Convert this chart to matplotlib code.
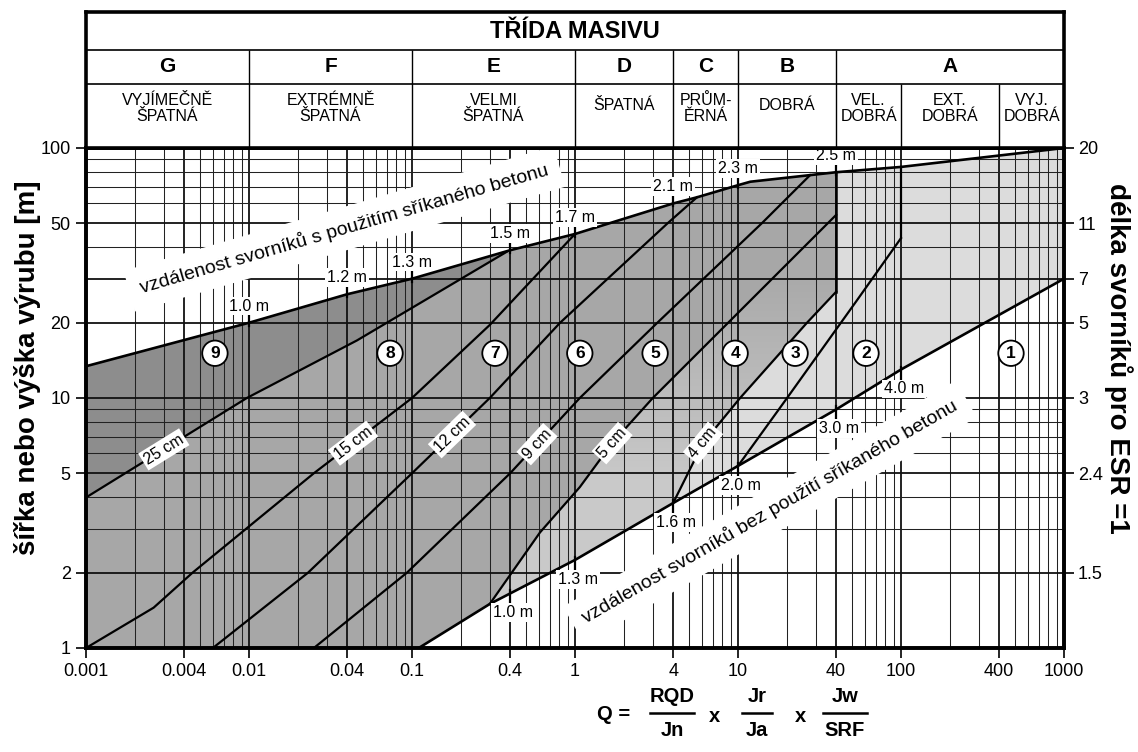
import numpy as np
import matplotlib
matplotlib.use('Agg')
import matplotlib.pyplot as plt
from matplotlib.patches import Polygon
from matplotlib.lines import Line2D
from matplotlib.ticker import FixedLocator, FixedFormatter, NullLocator

plt.rcParams['font.family'] = ['Liberation Sans', 'DejaVu Sans']

# ---------------- data ----------------
q_ticks = [0.001, 0.004, 0.01, 0.04, 0.1, 0.4, 1, 4, 10, 40, 100, 400, 1000]
q_tick_labels = ['0.001', '0.004', '0.01', '0.04', '0.1', '0.4', '1', '4', '10', '40', '100', '400', '1000']
span_ticks = [1, 2, 5, 10, 20, 50, 100]
span_tick_labels = ['1', '2', '5', '10', '20', '50', '100']
bolt_len_ticks = [2, 5, 10, 20, 30, 50, 100]
bolt_len_labels = ['1.5', '2.4', '3', '5', '7', '11', '20']
grid_major_span = [1, 2, 5, 10, 20, 30, 50, 100]

# header classes
class_edges = [0.001, 0.01, 0.1, 1, 4, 10, 40, 1000]
class_letters = ['G', 'F', 'E', 'D', 'C', 'B', 'A']
desc_edges = [0.001, 0.01, 0.1, 1, 4, 10, 40, 100, 400, 1000]
desc_texts = ['VYJÍMEČNĚ\nŠPATNÁ', 'EXTRÉMNĚ\nŠPATNÁ', 'VELMI\nŠPATNÁ', 'ŠPATNÁ',
              'PRŮM-\nĚRNÁ', 'DOBRÁ', 'VEL.\nDOBRÁ', 'EXT.\nDOBRÁ', 'VYJ.\nDOBRÁ']

# boundary: bolt spacing in shotcreted area (upper)
upper_q = [0.001, 0.01, 0.04, 0.1, 0.4, 1, 4, 5.6, 10, 11.9, 40, 100, 1000]
upper_s = [13.4, 20, 26, 30, 39, 45.3, 60, 63.5, 71, 73.3, 80, 84, 100]
# boundary: bolt spacing in unshotcreted area (lower)
lower_q = [0.11, 0.3, 1, 4, 10, 40, 100, 1000]
lower_s = [1, 1.5, 2.25, 3.8, 5.35, 9, 13, 30]

# shotcrete thickness lines
l25_q = [0.001, 0.0097, 0.046, 0.38]
l25_s = [4, 10, 17, 38.4]
l15_q = [0.001, 0.0026, 0.0045, 0.025, 0.1, 0.3, 1.0]
l15_s = [1, 1.45, 2, 5, 10, 19.6, 45.3]
l12_q = [0.006, 0.023, 0.1, 0.3, 0.81, 3.7, 5.6]
l12_s = [1, 2, 5, 10, 20, 50, 63.5]
l9_q = [0.025, 0.093, 0.40, 1.07, 3.2, 14, 27.7]
l9_s = [1, 2, 5, 10, 20, 50, 77.9]
l5_q = [0.3, 0.61, 1.07, 1.69, 3.0, 8.7, 40]
l5_s = [1.5, 2.9, 4.4, 6.6, 10, 20, 54]
l4_q = [4, 6.1, 10.3, 26.5, 40]
l4_s = [3.8, 6.6, 10, 20, 26.6]
# border between spot bolting and systematic bolting
l3_q = [10, 20, 53.7, 100]
l3_s = [5.35, 10, 24.6, 43.6]
q_vert_a = 40
q_vert_b = 100

# spacing marks
up_mark_q = [0.01, 0.04, 0.1, 0.4, 1, 4, 10, 40]
up_mark_lab = ['1.0 m', '1.2 m', '1.3 m', '1.5 m', '1.7 m', '2.1 m', '2.3 m', '2.5 m']
lo_mark_q = [0.4, 1, 4, 10, 40, 100]
lo_mark_lab = ['1.0 m', '1.3 m', '1.6 m', '2.0 m', '3.0 m', '4.0 m']

# thickness labels
thick_lab = ['25 cm', '15 cm', '12 cm', '9 cm', '5 cm', '4 cm']
thick_q = [0.003, 0.0435, 0.176, 0.585, 1.69, 6.1]

# region numbers
region_ids = ['1', '2', '3', '4', '5', '6', '7', '8', '9']
region_q = [473, 61, 22.4, 9.6, 3.1, 1.07, 0.323, 0.0733, 0.00618]
region_span = 15.1

# ---------------- helpers ----------------
def interp(qs, ss, q):
    return 10 ** np.interp(np.log10(q), np.log10(qs), np.log10(ss))

def part(qs, ss, qa, qb):
    qs = np.asarray(qs, float); ss = np.asarray(ss, float)
    inner = (qs > qa * 1.0001) & (qs < qb / 1.0001)
    xq = np.concatenate([[qa], qs[inner], [qb]])
    xs = np.concatenate([[interp(qs, ss, qa)], ss[inner], [interp(qs, ss, qb)]])
    return list(zip(xq, xs))

W, H = 1138, 752
L, R, T, B = 86, 1064, 148, 648
fig = plt.figure(figsize=(W / 100, H / 100), dpi=100)
ax = fig.add_axes([L / W, 1 - B / H, (R - L) / W, (B - T) / H])
ax.set_xscale('log'); ax.set_yscale('log')
ax.set_xlim(1e-3, 1e3); ax.set_ylim(1, 100)

# ---------------- regions ----------------
up_all = part(upper_q, upper_s, 0.001, 1000)
lo_all = part(lower_q, lower_s, 0.11, 1000)
poly_all = up_all + lo_all[::-1] + [(0.001, 1)]
ax.add_patch(Polygon(poly_all, closed=True, fc='#dcdcdc', ec='none', zorder=1))

up40 = part(upper_q, upper_s, 0.001, q_vert_a)
poly4 = up40 + list(zip(l4_q, l4_s))[::-1] + part(lower_q, lower_s, 0.11, 4)[::-1][1:] + [(0.001, 1)]
p4 = Polygon(poly4, closed=True, fc='none', ec='none', zorder=1)
ax.add_patch(p4)
lev = np.logspace(0, 2, 81)
for y0, y1 in zip(lev[:-1], lev[1:]):
    t = np.clip((np.log10(y0) - 0.65) / (1.45 - 0.65), 0, 1)
    g = 0.79 - t * (0.79 - 0.665)
    r = ax.axhspan(y0, y1, color=(g, g, g), lw=0, zorder=1)
    r.set_clip_path(p4)

poly5 = up40 + list(zip(l5_q, l5_s))[::-1] + part(lower_q, lower_s, 0.11, 0.3)[::-1][1:] + [(0.001, 1)]
ax.add_patch(Polygon(poly5, closed=True, fc='#a7a7a7', ec='none', zorder=1.1))

poly9 = part(upper_q, upper_s, 0.001, l25_q[-1]) + list(zip(l25_q, l25_s))[::-1]
ax.add_patch(Polygon(poly9, closed=True, fc='#8d8d8d', ec='none', zorder=1.2))

# ---------------- grid ----------------
for e in range(-3, 3):
    for m in range(1, 10):
        q = m * 10.0 ** e
        if any(np.isclose(q, v) for v in q_ticks):
            ax.axvline(q, color='#111111', lw=1.3, zorder=2)
        else:
            ax.axvline(q, color='#222222', lw=0.75, zorder=2)
for e in range(0, 2):
    for m in range(1, 10):
        s = m * 10.0 ** e
        if any(np.isclose(s, v) for v in grid_major_span):
            ax.axhline(s, color='#111111', lw=1.3, zorder=2)
        else:
            ax.axhline(s, color='#222222', lw=0.75, zorder=2)

# ---------------- lines ----------------
ax.plot(upper_q, upper_s, color='k', lw=1.9, zorder=3, solid_joinstyle='round')
ax.plot(lower_q, lower_s, color='k', lw=1.9, zorder=3, solid_joinstyle='round')
for qs, ss in [(l25_q, l25_s), (l15_q, l15_s), (l12_q, l12_s), (l9_q, l9_s),
               (l5_q, l5_s), (l4_q, l4_s), (l3_q, l3_s)]:
    ax.plot(qs, ss, color='k', lw=1.6, zorder=3, solid_joinstyle='round')
ax.plot([q_vert_a, q_vert_a], [l4_s[-1], interp(upper_q, upper_s, q_vert_a)], color='k', lw=1.8, zorder=3)
ax.plot([q_vert_b, q_vert_b], [l3_s[-1], interp(upper_q, upper_s, q_vert_b)], color='k', lw=1.6, zorder=3)

# ---------------- spacing marks ----------------
pxs = 10 ** (1 / 250.0)  # one pixel in span units
for q, lab in zip(up_mark_q, up_mark_lab):
    s = interp(upper_q, upper_s, q)
    ax.plot([q, q], [s / pxs ** 3, s * pxs ** 10], color='k', lw=1.6, zorder=3)
    ax.annotate(lab, (q, s), xytext=(0, 12), textcoords='offset points', ha='center', va='center',
                fontsize=11.5, zorder=5,
                bbox=dict(boxstyle='square,pad=0.12', fc='white', ec='none'))
for q, lab in zip(lo_mark_q, lo_mark_lab):
    s = interp(lower_q, lower_s, q)
    ax.plot([q, q], [s * pxs ** 3, s / pxs ** 10], color='k', lw=1.6, zorder=3)
    ax.annotate(lab, (q, s), xytext=(2, -14), textcoords='offset points', ha='center', va='center',
                fontsize=11.5, zorder=5,
                bbox=dict(boxstyle='square,pad=0.12', fc='white', ec='none'))

# ---------------- angle helper ----------------
def angle(qs, ss, q0):
    q1 = q0 * 1.1
    p0 = ax.transData.transform((q0, interp(qs, ss, q0)))
    p1 = ax.transData.transform((q1, interp(qs, ss, q1)))
    return np.degrees(np.arctan2(p1[1] - p0[1], p1[0] - p0[0]))

# thickness labels
for (qs, ss), lab, q in zip([(l25_q, l25_s), (l15_q, l15_s), (l12_q, l12_s), (l9_q, l9_s),
                             (l5_q, l5_s), (l4_q, l4_s)], thick_lab, thick_q):
    ax.text(q, interp(qs, ss, q), lab, rotation=angle(qs, ss, q), rotation_mode='anchor',
            ha='center', va='center', fontsize=11.5, zorder=5,
            bbox=dict(boxstyle='square,pad=0.15', fc='white', ec='none'))

# big labels
ax.text(0.0385, 47.5, 'vzdálenost svorníků s použitím sříkaného betonu',
        rotation=angle(upper_q, upper_s, 0.01), rotation_mode='anchor', ha='center', va='center',
        fontsize=14, zorder=4, bbox=dict(boxstyle='square,pad=0.6', fc='white', ec='none'))
ax.text(15.7, 3.5, 'vzdálenost svorníků bez použití sříkaného betonu',
        rotation=angle(lower_q, lower_s, 10), rotation_mode='anchor', ha='center', va='center',
        fontsize=14, zorder=4, bbox=dict(boxstyle='square,pad=0.6', fc='white', ec='none'))

# region circles
for lab, q in zip(region_ids, region_q):
    ax.text(q, region_span, lab, ha='center', va='center', fontsize=12.5, fontweight='bold', zorder=6,
            bbox=dict(boxstyle='circle,pad=0.3', fc='white', ec='black', lw=1.3))

# ---------------- axes styling ----------------
ax.xaxis.set_major_locator(FixedLocator(q_ticks))
ax.xaxis.set_major_formatter(FixedFormatter(q_tick_labels))
ax.xaxis.set_minor_locator(NullLocator())
ax.yaxis.set_major_locator(FixedLocator(span_ticks))
ax.yaxis.set_major_formatter(FixedFormatter(span_tick_labels))
ax.yaxis.set_minor_locator(NullLocator())
ax.tick_params(direction='out', length=7, width=1.2, labelsize=13, pad=4)
for sp in ax.spines.values():
    sp.set_linewidth(2.6)
    sp.set_zorder(7)

ax2 = ax.twinx()
ax2.set_yscale('log'); ax2.set_ylim(1, 100)
ax2.yaxis.set_major_locator(FixedLocator(bolt_len_ticks))
ax2.yaxis.set_major_formatter(FixedFormatter(bolt_len_labels))
ax2.yaxis.set_minor_locator(NullLocator())
ax2.tick_params(direction='out', length=7, width=1.2, labelsize=13, pad=3)
for sp in ax2.spines.values():
    sp.set_linewidth(2.6)

fig.text(28 / W, 1 - 368 / H, 'šířka nebo výška výrubu [m]', rotation=90, ha='center', va='center',
         fontsize=20, fontweight='bold')
fig.text(1118 / W, 1 - 358 / H, 'délka svorníků pro ESR =1', rotation=270, ha='center', va='center',
         fontsize=20, fontweight='bold')

# ---------------- header ----------------
axh = fig.add_axes([L / W, 1 - T / H, (R - L) / W, (T - 12) / H])
axh.set_xscale('log'); axh.set_xlim(1e-3, 1e3); axh.set_ylim(0, 1)
for a in (axh.xaxis, axh.yaxis):
    a.set_major_locator(NullLocator()); a.set_minor_locator(NullLocator())
for sp in axh.spines.values():
    sp.set_linewidth(2.6)
r1 = (T - 50) / (T - 12)
r2 = (T - 84) / (T - 12)
axh.axhline(r1, color='k', lw=1.2)
axh.axhline(r2, color='k', lw=1.2)
axh.vlines(class_edges[1:-1], 0, r1, color='k', lw=1.0)
axh.vlines([e for e in desc_edges[1:-1] if e not in class_edges], 0, r2, color='k', lw=1.0)
axh.text(1, (1 + r1) / 2, 'TŘÍDA MASIVU', ha='center', va='center', fontsize=17, fontweight='bold')
for a, b, lab in zip(class_edges[:-1], class_edges[1:], class_letters):
    axh.text(np.sqrt(a * b), (r1 + r2) / 2, lab, ha='center', va='center', fontsize=15, fontweight='bold')
for a, b, lab in zip(desc_edges[:-1], desc_edges[1:], desc_texts):
    axh.text(np.sqrt(a * b), 0.29 if '\n' in lab else 0.31, lab, ha='center', va='center',
             fontsize=11.5, linespacing=1.15)

# ---------------- formula ----------------
def fp(x, y):
    return x / W, 1 - y / H

ff = dict(fontsize=14.5, fontweight='bold', ha='center', va='center',
          family=['Liberation Sans Narrow', 'Liberation Sans', 'DejaVu Sans'])
fig.text(*fp(614, 714), 'Q =', **ff)
for cx, num, den, half in [(672, 'RQD', 'Jn', 22), (757, 'Jr', 'Ja', 15), (845, 'Jw', 'SRF', 22)]:
    fig.text(*fp(cx, 696), num, **ff)
    fig.text(*fp(cx, 731), den, **ff)
    fig.add_artist(Line2D([(cx - half) / W, (cx + half) / W], [1 - 713 / H] * 2, color='k', lw=1.8))
fig.text(*fp(714, 716), 'x', **ff)
fig.text(*fp(800, 716), 'x', **ff)

fig.savefig('out.png', dpi=100, facecolor='white')
